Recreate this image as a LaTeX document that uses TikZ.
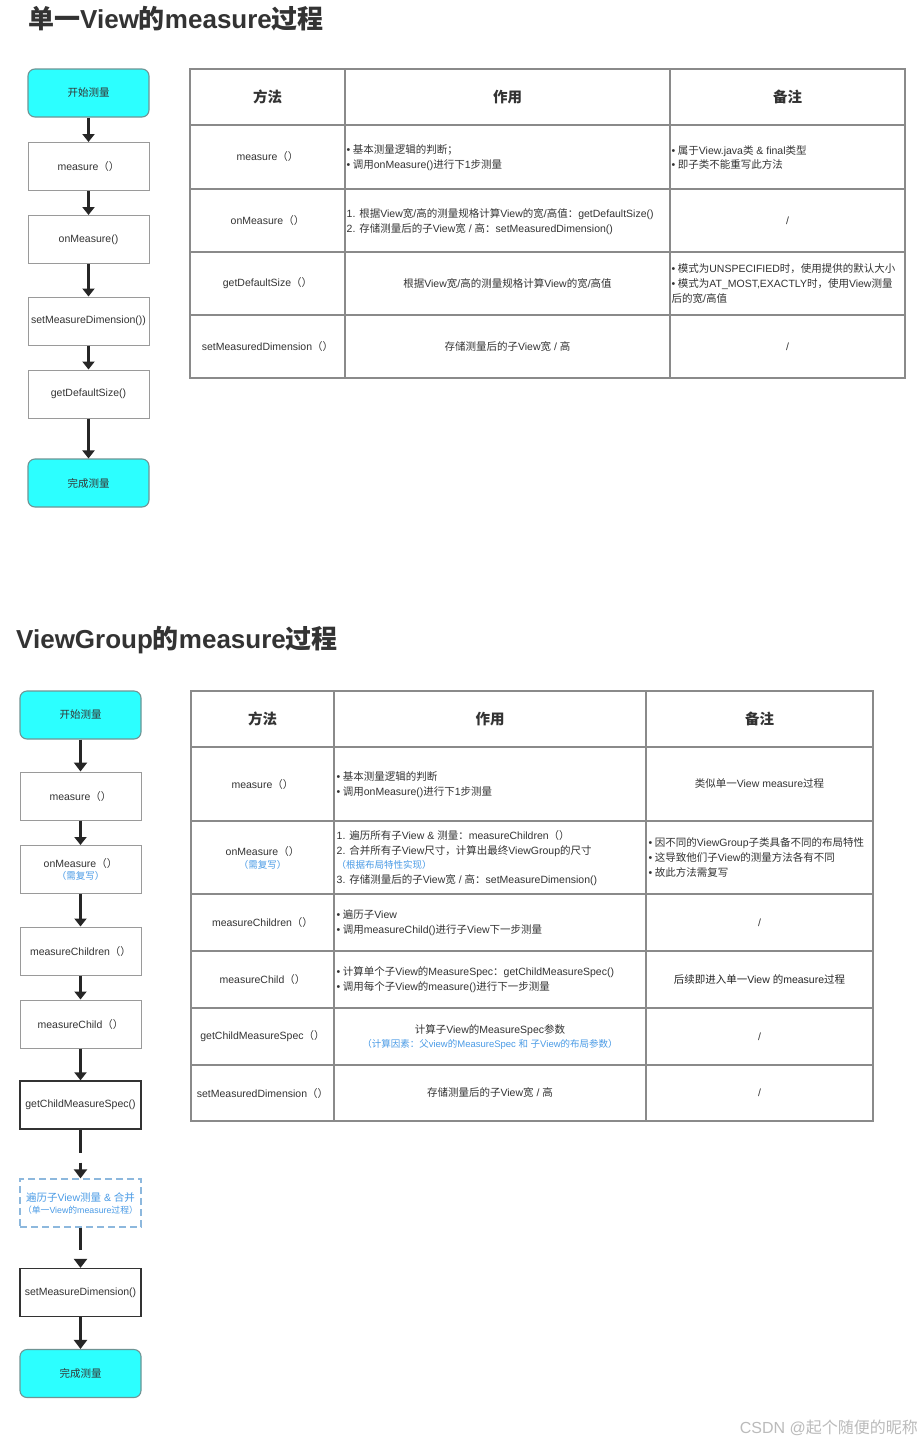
\documentclass[tikz,border=0pt]{standalone}
\usepackage{fontspec}
\setmainfont{Liberation Sans}
\newfontfamily\cjkfont{Noto Sans CJK SC}
\usetikzlibrary{arrows.meta}
\XeTeXinterchartokenstate=1
\newXeTeXintercharclass\CJKcls
\makeatletter
\count@="3000
\loop \XeTeXcharclass\count@=\CJKcls \advance\count@ by 1 \ifnum\count@<"3040 \repeat
\count@="4E00
\loop \XeTeXcharclass\count@=\CJKcls \advance\count@ by 1 \ifnum\count@<"A000 \repeat
\count@="FF00
\loop \XeTeXcharclass\count@=\CJKcls \advance\count@ by 1 \ifnum\count@<"FFF0 \repeat
\makeatother
\XeTeXinterchartoks 0 \CJKcls = {\cjkfont}
\XeTeXinterchartoks 4095 \CJKcls = {\cjkfont}
\XeTeXinterchartoks \CJKcls 0 = {\rmfamily}
\XeTeXinterchartoks \CJKcls 4095 = {\rmfamily}
\definecolor{cyanfill}{HTML}{2CFFFF}
\definecolor{cyanline}{HTML}{6F9494}
\definecolor{txt}{HTML}{333333}
\definecolor{lnc}{HTML}{8A8A8A}
\definecolor{boxline}{HTML}{9A9A9A}
\definecolor{blu}{HTML}{4A9BE6}
\definecolor{dashb}{HTML}{8DB8DD}
\definecolor{wm}{HTML}{BBBBBB}
\newcommand\bul{•\hspace{2.5pt}}
\tikzset{
 fc/.style={draw=boxline, line width=1pt, fill=white, minimum width=121pt, minimum height=48pt, inner sep=1pt, font=\fontsize{10.5}{14}\selectfont, text=txt, align=center},
 fcdark/.style={fc, draw=black!80, line width=1.3pt},
 startbox/.style={fc, fill=cyanfill, draw=cyanline, line width=1.1pt, rounded corners=7pt},
 dbox/.style={fc, draw=dashb, dash pattern=on 7pt off 4pt, line width=1.3pt, text=blu},
 arr/.style={draw=black!85, line width=2.2pt, -{Triangle[width=12pt,length=8pt]}},
 arrthick/.style={draw=black!85, line width=3pt, -{Triangle[width=13pt,length=9pt]}},
 tline/.style={draw=lnc, line width=1.3pt},
 hdr/.style={font=\fontsize{14.5}{17}\selectfont\bfseries, text=txt, inner sep=0},
 cell/.style={font=\fontsize{10.5}{14.8}\selectfont, text=txt, inner sep=0, align=left},
 ccell/.style={cell, align=center},
 ttl/.style={font=\fontsize{26}{30}\selectfont\bfseries, text=txt, inner sep=0, anchor=base west},
}
\begin{document}
\begin{tikzpicture}[x=1pt,y=-1pt]
\useasboundingbox (0,0) rectangle (922,1443);
\fill[white] (0,0) rectangle (922,1443);

% ---------- Section 1 ----------
\node[ttl] (t1) at (28,28.5) {单一View的measure过程};

\node[startbox] (s1) at (88.5,93) {开始测量};
\node[fc] (m1) at (88.5,166.5) {measure（）};
\node[fc] (o1) at (88.5,239.5) {onMeasure()};
\node[fc] (d1) at (88.5,321) {setMeasureDimension())};
\node[fc] (g1) at (88.5,394) {getDefaultSize()};
\node[startbox] (e1) at (88.5,483) {完成测量};
\draw[arr] (s1) -- (m1);
\draw[arr] (m1) -- (o1);
\draw[arr] (o1) -- (d1);
\draw[arr] (d1) -- (g1);
\draw[arr] (g1) -- (e1);

\draw[tline] (190,69) rectangle (905,378);
\foreach \y in {125,189,252,315} \draw[tline] (190,\y) -- (905,\y);
\foreach \x in {345,670} \draw[tline] (\x,69) -- (\x,378);

\node[hdr] (h11) at (267.5,97) {方法};
\node[hdr] (h12) at (507.5,97) {作用};
\node[hdr] (h13) at (787.5,97) {备注};

\node[ccell] (a11) at (267.5,157) {measure（）};
\node[cell, anchor=west] (a12) at (346.5,157.5) {\bul 基本测量逻辑的判断；\\\bul 调用onMeasure()进行下1步测量};
\node[cell, anchor=west] (a13) at (671.5,157.5) {\bul 属于View.java类 \& final类型\\\bul 即子类不能重写此方法};

\node[ccell] (a21) at (267.5,220.5) {onMeasure（）};
\node[cell, anchor=west] (a22) at (346.5,221.5) {1. 根据View宽/高的测量规格计算View的宽/高值：getDefaultSize()\\2. 存储测量后的子View宽 / 高：setMeasuredDimension()};
\node[ccell] (a23) at (787.5,220.5) {/};

\node[ccell] (a31) at (267.5,283.5) {getDefaultSize（）};
\node[ccell] (a32) at (507.5,283.5) {根据View宽/高的测量规格计算View的宽/高值};
\node[cell, anchor=west] (a33) at (671.5,283.5) {\bul 模式为UNSPECIFIED时，使用提供的默认大小\\\bul 模式为AT\_MOST,EXACTLY时，使用View测量\\后的宽/高值};

\node[ccell] (a41) at (267.5,346.5) {setMeasuredDimension（）};
\node[ccell] (a42) at (507.5,346.5) {存储测量后的子View宽 / 高};
\node[ccell] (a43) at (787.5,346.5) {/};

% ---------- Section 2 ----------
\node[ttl] (t2) at (16,648) {ViewGroup的measure过程};

\node[startbox] (s2) at (80.5,715) {开始测量};
\node[fc] (m2) at (80.5,796) {measure（）};
\node[fc] (o2) at (80.5,869.5) {onMeasure（）\\[-2pt]{\color{blu}\fontsize{9.5}{12}\selectfont（需复写）}};
\node[fc] (mc2) at (80.5,951) {measureChildren（）};
\node[fc] (mch2) at (80.5,1024) {measureChild（）};
\node[fcdark] (g2) at (80.5,1105) {getChildMeasureSpec()};
\node[dbox] (dash2) at (80.5,1203) {遍历子View测量 \& 合并\\[-2pt]{\fontsize{8.8}{11}\selectfont（单一View的measure过程）}};
\node[fcdark] (d2) at (80.5,1292.5) {setMeasureDimension()};
\node[startbox] (e2) at (80.5,1373.5) {完成测量};
\draw[arrthick] (s2) -- (m2);
\draw[arr] (m2) -- (o2);
\draw[arr] (o2) -- (mc2);
\draw[arr] (mc2) -- (mch2);
\draw[arr] (mch2) -- (g2);
\draw[arrthick, dash pattern=on 23pt off 10pt on 60pt] (g2) -- (dash2);
\draw[arrthick, dash pattern=on 22pt off 10pt on 60pt] (dash2) -- (d2);
\draw[arrthick] (d2) -- (e2);

\draw[tline] (191,691) rectangle (873,1121);
\foreach \y in {747,821,894,951,1008,1065} \draw[tline] (191,\y) -- (873,\y);
\foreach \x in {334,646} \draw[tline] (\x,691) -- (\x,1121);

\node[hdr] (h21) at (262.5,719) {方法};
\node[hdr] (h22) at (490,719) {作用};
\node[hdr] (h23) at (759.5,719) {备注};

\node[ccell] (b11) at (262.5,784) {measure（）};
\node[cell, anchor=west] (b12) at (336.5,784.5) {\bul 基本测量逻辑的判断\\\bul 调用onMeasure()进行下1步测量};
\node[ccell] (b13) at (759.5,784) {类似单一View measure过程};

\node[ccell] (b21) at (262.5,858) {onMeasure（）\\[-1pt]{\color{blu}\fontsize{9.5}{12}\selectfont（需复写）}};
\node[cell, anchor=west] (b22) at (336.5,858) {1. 遍历所有子View \& 测量：measureChildren（）\\2. 合并所有子View尺寸，计算出最终ViewGroup的尺寸\\{\color{blu}\fontsize{9.5}{12}\selectfont（根据布局特性实现）}\\3. 存储测量后的子View宽 / 高：setMeasureDimension()};
\node[cell, anchor=west] (b23) at (648.5,857.5) {\bul 因不同的ViewGroup子类具备不同的布局特性\\\bul 这导致他们子View的测量方法各有不同\\\bul 故此方法需复写};

\node[ccell] (b31) at (262.5,922.5) {measureChildren（）};
\node[cell, anchor=west] (b32) at (336.5,922.5) {\bul 遍历子View\\\bul 调用measureChild()进行子View下一步测量};
\node[ccell] (b33) at (759.5,922.5) {/};

\node[ccell] (b41) at (262.5,979.5) {measureChild（）};
\node[cell, anchor=west] (b42) at (336.5,979.5) {\bul 计算单个子View的MeasureSpec：getChildMeasureSpec()\\\bul 调用每个子View的measure()进行下一步测量};
\node[ccell, text=black!85] (b43) at (759.5,979.5) {后续即进入单一View 的measure过程};

\node[ccell] (b51) at (262.5,1036.5) {getChildMeasureSpec（）};
\node[ccell] (b52) at (490,1037) {计算子View的MeasureSpec参数\\{\color{blu}\fontsize{9.5}{12}\selectfont（计算因素：父view的MeasureSpec 和 子View的布局参数）}};
\node[ccell] (b53) at (759.5,1036.5) {/};

\node[ccell] (b61) at (262.5,1093) {setMeasuredDimension（）};
\node[ccell] (b62) at (490,1093) {存储测量后的子View宽 / 高};
\node[ccell] (b63) at (759.5,1093) {/};

\node[font=\fontsize{16}{18}\selectfont, text=wm, anchor=east, inner sep=0] (wmk) at (918,1428) {CSDN @起个随便的昵称};
\end{tikzpicture}
\end{document}
